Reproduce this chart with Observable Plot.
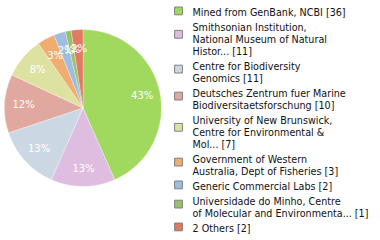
<!DOCTYPE html>
<html>
<head>
<meta charset="utf-8">
<script src="https://cdn.jsdelivr.net/npm/d3@7"></script>
<script src="https://cdn.jsdelivr.net/npm/@observablehq/plot@0.6"></script>
<style>
  html, body { margin: 0; padding: 0; background: #fff; }
  svg { display: block; }
</style>
</head>
<body>
<div id="chart"></div>
<script>
// ---- data ----
const institutions = [
  "Mined from GenBank, NCBI",
  "Smithsonian Institution,\nNational Museum of Natural\nHistor...",
  "Centre for Biodiversity\nGenomics",
  "Deutsches Zentrum fuer Marine\nBiodiversitaetsforschung",
  "University of New Brunswick,\nCentre for Environmental &\nMol...",
  "Government of Western\nAustralia, Dept of Fisheries",
  "Generic Commercial Labs",
  "Universidade do Minho, Centre\nof Molecular and Environmenta...",
  "2 Others"
];
const counts = [36, 11, 11, 10, 7, 3, 2, 1, 2];
const sliceColors = ["#a0d95e", "#dfbde0", "#cbd8e4", "#e0a89f", "#dee2a1", "#f0ad70", "#9ebde1", "#99c06d", "#e07a60"];

// ---- layout constants ----
const W = 380, H = 240;
const cx = 83, cy = 108, R = 78.5, labelR = 60;
const legendSquareX = 178, legendTextX = 192;
const top0 = 6.7, lineH = 12, gap = 3;
const font = "DejaVu Sans, Verdana, sans-serif";

const total = d3.sum(counts);
const arcs = d3.pie().sort(null).value(d => d.count)(
  institutions.map((name, i) => ({name, count: counts[i], i}))
);

let linesBefore = 0;
const legend = arcs.map((a, i) => {
  const n = a.data.name.split("\n").length;
  const top = top0 + lineH * linesBefore + gap * i;
  linesBefore += n;
  return {
    key: a.data.name,
    label: `${a.data.name} [${a.data.count}]`,
    top,
    sqY: top + 3.7 + 4.2 * (n - 1)
  };
});

const pct = arcs.map(a => {
  const mid = (a.startAngle + a.endAngle) / 2;
  return {
    key: a.data.name,
    text: Math.floor(a.data.count / total * 100) + "%",
    x: cx + Math.sin(mid) * labelR,
    y: cy - Math.cos(mid) * labelR
  };
});

const arcGen = d3.arc().innerRadius(0).outerRadius(R);

function pieMark(index, scales) {
  const g = d3.create("svg:g").attr("transform", `translate(${cx},${cy})`);
  g.selectAll("path").data(arcs).join("path")
    .attr("d", arcGen)
    .attr("fill", a => (scales && scales.color) ? scales.color(a.data.name) : sliceColors[a.data.i])
    .attr("stroke", "#fff")
    .attr("stroke-width", 0.5)
    .attr("stroke-opacity", 0.6);
  return g.node();
}

const chart = Plot.plot({
  width: W,
  height: H,
  margin: 0,
  x: {type: "identity", axis: null},
  y: {type: "identity", axis: null},
  color: {domain: institutions, range: sliceColors},
  style: {fontFamily: font, background: "#fff"},
  marks: [
    pieMark,
    Plot.text(pct, {
      x: "x", y: "y", text: "text",
      fill: "#fff", fontSize: 10, fontFamily: font,
      textAnchor: "middle"
    }),
    Plot.dot(legend, {
      x: () => legendSquareX, y: "sqY",
      symbol: "square", r: 4.4,
      fill: "key", stroke: "#808080", strokeWidth: 1
    }),
    Plot.text(legend, {
      x: () => legendTextX, y: "top", text: "label",
      textAnchor: "start", lineAnchor: "top",
      fontSize: 9.6, lineHeight: 1.25, fill: "#111",
      fontFamily: font
    })
  ]
});

document.getElementById("chart").appendChild(chart);
</script>
</body>
</html>
